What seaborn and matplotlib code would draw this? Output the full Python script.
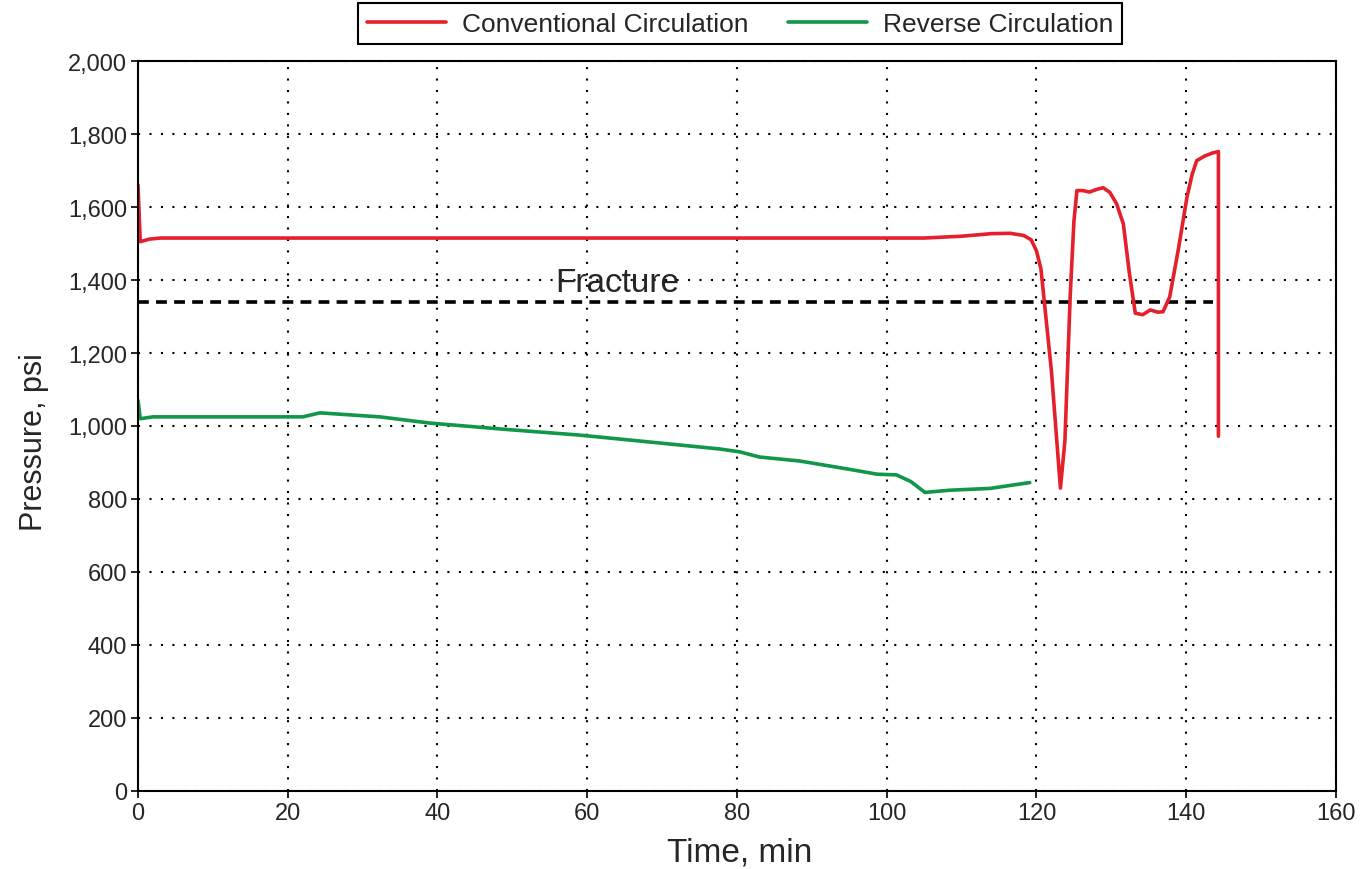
import numpy as np
import pandas as pd
import matplotlib
matplotlib.use("Agg")
import matplotlib.pyplot as plt
import seaborn as sns
from matplotlib.ticker import FuncFormatter

# values
conv_time = [0, 0.3, 1.5, 3, 20, 40, 60, 80, 100, 105, 110, 114, 116.5, 118.3, 119.3,
             120.0, 120.6, 122.0, 123.2, 123.8, 124.5, 125.0, 125.4, 126.2, 127.1, 128.0,
             128.9, 129.8, 130.7, 131.6, 132.4, 133.2, 134.2, 135.2, 136.2, 136.9, 137.8,
             139.0, 140.1, 140.8, 141.4, 142.5, 143.5, 144.3, 144.3]
conv_pressure = [1660, 1505, 1512, 1515, 1515, 1515, 1515, 1515, 1515, 1515, 1520, 1527,
                 1528, 1522, 1510, 1480, 1430, 1150, 830, 960, 1354, 1560, 1645, 1645,
                 1641, 1648, 1653, 1640, 1609, 1554, 1420, 1309, 1305, 1318, 1312, 1313,
                 1354, 1490, 1627, 1690, 1727, 1740, 1748, 1752, 972]

rev_time = [0, 0.3, 2, 22, 24.3, 32.3, 39, 48.3, 59, 68.4, 77.7, 80.4, 83, 88.4, 95.1,
            98.7, 101.3, 103.2, 105.1, 108.4, 113.8, 119.1]
rev_pressure = [1070, 1020, 1025, 1025, 1036, 1025, 1008, 992, 975, 956, 937, 929, 915,
                904, 881, 868, 866, 848, 818, 824, 829, 845]

fracture_pressure = 1340
fracture_end = 143.6

series_names = ["Conventional Circulation", "Reverse Circulation"]
colors = {"Conventional Circulation": "#E3202B", "Reverse Circulation": "#12964A"}

df = pd.concat([
    pd.DataFrame({"Time": conv_time, "Pressure": conv_pressure, "Series": series_names[0]}),
    pd.DataFrame({"Time": rev_time, "Pressure": rev_pressure, "Series": series_names[1]}),
], ignore_index=True)

sns.set_theme(style="white")
plt.rcParams['font.family'] = ['Liberation Sans', 'DejaVu Sans']

fig = plt.figure(figsize=(13.61, 8.70), dpi=100)
ax = fig.add_axes([0.1014, 0.0897, 0.8802, 0.839])

sns.lineplot(data=df, x="Time", y="Pressure", hue="Series", palette=colors,
             estimator=None, sort=False, units="Series", linewidth=2.6, ax=ax)

ax.plot([0, fracture_end], [fracture_pressure, fracture_pressure], color="black",
        linestyle=(0, (3, 2)), linewidth=2.6, zorder=1)
ax.text(55.7, fracture_pressure + 12, "Fracture", fontsize=24, va="bottom", ha="left")

ax.set_xlim(0, 160)
ax.set_ylim(0, 2000)
ax.set_xticks(range(0, 161, 20))
ax.set_yticks(range(0, 2001, 200))
ax.yaxis.set_major_formatter(FuncFormatter(lambda v, p: f"{int(v):,}"))
ax.grid(True, color="black", linestyle=(0, (1, 4.5)), linewidth=1.5)
ax.set_axisbelow(True)
for s in ax.spines.values():
    s.set_color("black")
    s.set_linewidth(1.5)
ax.tick_params(axis="both", which="major", direction="out", length=5, width=1.2,
               color="black", labelsize=17, pad=3, bottom=True, left=True)
ax.set_xlabel("Time, min", fontsize=24)
ax.set_ylabel("Pressure, psi", fontsize=22)
ax.xaxis.set_label_coords(0.5025, -0.062)
ax.yaxis.set_label_coords(-0.074, 0.479)

ax.legend(loc="lower center", bbox_to_anchor=(0.5025, 1.012), ncol=2, fontsize=19,
          frameon=True, fancybox=False, edgecolor="black", framealpha=1,
          handlelength=3.0, columnspacing=1.5, borderpad=0.32, handletextpad=0.6,
          borderaxespad=0.3)
ax.get_legend().get_frame().set_linewidth(1.5)

fig.savefig("out.png", dpi=100)
